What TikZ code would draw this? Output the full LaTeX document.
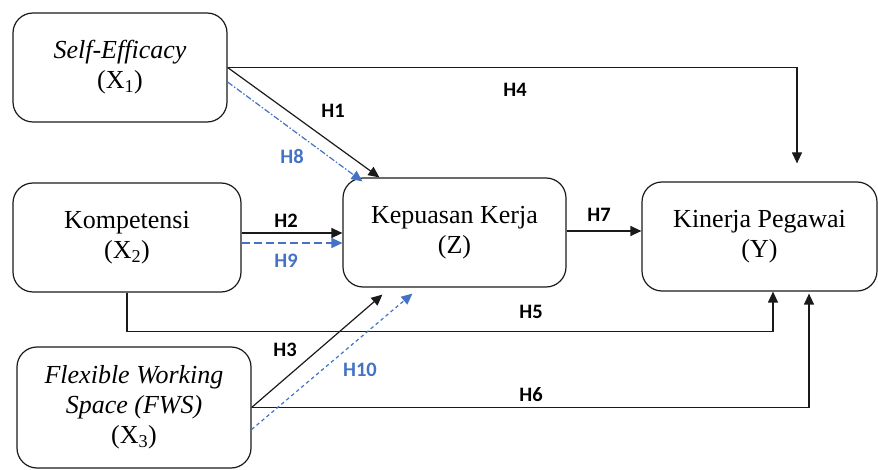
\documentclass[tikz,border=0pt]{standalone}
\usepackage{fontspec}
\setmainfont{Liberation Serif}
\newfontfamily\labfont{Carlito}
\usetikzlibrary{arrows.meta}
\definecolor{hblue}{HTML}{4472C4}
\definecolor{lineblk}{HTML}{1A1A1A}
\begin{document}
\begin{tikzpicture}[x=1pt,y=-1pt,
  var/.style={draw=lineblk,line width=1.2pt,rounded corners=20pt,inner sep=0pt,
    align=center,font=\fontsize{26}{30}\selectfont},
  arr/.style={draw=lineblk,line width=1.2pt,-{Triangle[length=11pt,width=10pt]}},
  barr/.style={draw=hblue,line width=1.2pt,-{Triangle[length=11pt,width=10pt]}},
  hl/.style={font=\labfont\bfseries\fontsize{20.5}{22}\selectfont,text=black,inner sep=0pt},
  bhl/.style={hl,text=hblue}]
\useasboundingbox (0,0) rectangle (878,470);
% nodes
\node[var,minimum width=214pt,minimum height=109pt] (X1) at (120,67.5)
  {\textit{Self-Efficacy}\\(X\textsubscript{1})};
\node[var,minimum width=228pt,minimum height=109pt] (X2) at (127,237.5)
  {Kompetensi\\(X\textsubscript{2})};
\node[var,minimum width=234pt,minimum height=121pt] (X3) at (134,407.5)
  {\textit{Flexible Working}\\\textit{Space (FWS)}\\(X\textsubscript{3})};
\node[var,minimum width=223pt,minimum height=109pt] (Z) at (454.5,232.5)
  {Kepuasan Kerja\\(Z)};
\node[var,minimum width=235pt,minimum height=109pt] (Y) at (759.5,236.5)
  {Kinerja Pegawai\\(Y)};
% connectors
\draw[arr,shorten >=18pt] (X1.east) -| ([xshift=37.5pt]Y.north);
\draw[arr] (X1.east) -- ([xshift=37pt]Z.north west);
\draw[barr,dash pattern=on 6pt off 2pt on 1.5pt off 2pt] ([yshift=-14.5pt]X1.east) -- ([xshift=20pt,yshift=-4pt]Z.north west);
\draw[arr] ([yshift=4.5pt]X2.east) -- ([yshift=4.5pt]X2.east -| Z.west);
\draw[barr,dash pattern=on 8pt off 4pt] ([yshift=-5.5pt]X2.east) -- ([yshift=-5.5pt]X2.east -| Z.west);
\draw[arr] ([yshift=1.5pt]Z.east) -- ([yshift=1.5pt]Z.east -| Y.west);
\draw[arr] (X2.south) |- ([xshift=13.5pt,yshift=-40pt]Y.south) -- ([xshift=13.5pt]Y.south);
\draw[arr] (X3.east) -| ([xshift=49.5pt,yshift=-2pt]Y.south);
\draw[arr] (X3.east) -- ([xshift=40pt,yshift=-7pt]Z.south west);
\draw[barr,dash pattern=on 3.5pt off 3pt] ([yshift=-22pt]X3.east) -- ([xshift=70pt,yshift=-6pt]Z.south west);
% labels
\node[hl] (l1) at (333,111) {H1};
\node[bhl] (l8) at (292,157) {H8};
\node[hl] (l4) at (515,90) {H4};
\node[hl] (l2) at (286,221) {H2};
\node[bhl] (l9) at (286,261) {H9};
\node[hl] (l7) at (599,215) {H7};
\node[hl] (l5) at (531,312) {H5};
\node[hl] (l6) at (531,395) {H6};
\node[hl] (l3) at (285,350) {H3};
\node[bhl] (l10) at (360,370) {H10};
\end{tikzpicture}
\end{document}
